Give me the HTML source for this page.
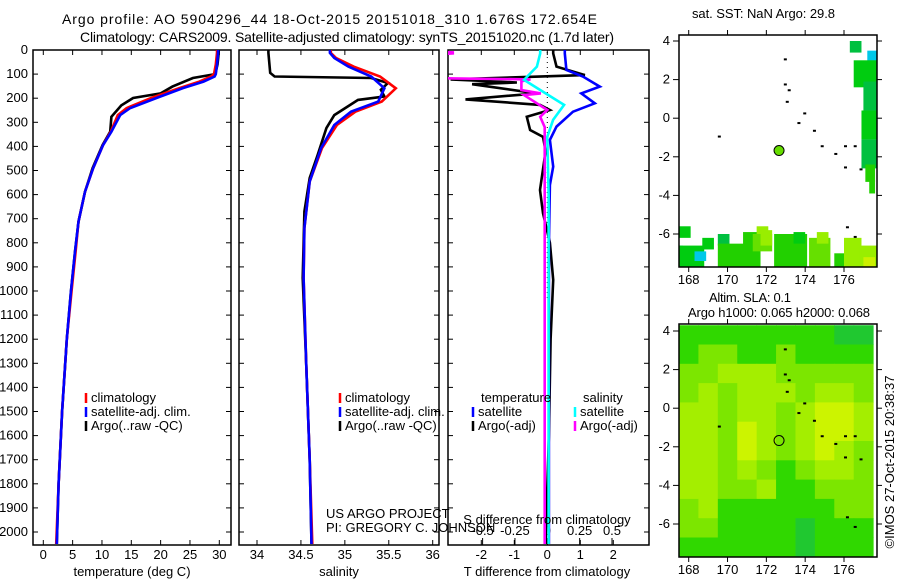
<!DOCTYPE html>
<html><head><meta charset="utf-8"><style>
body{margin:0;background:#fff;}
svg{display:block;font-family:"Liberation Sans",sans-serif;}
text{font-size:13px;fill:#000;}
</style></head><body>
<svg id="c" width="900" height="580" viewBox="0 0 900 580" xmlns="http://www.w3.org/2000/svg">
<defs>
<clipPath id="cp1"><rect x="33" y="50" width="198" height="495"/></clipPath>
<clipPath id="cp2"><rect x="239" y="50" width="200" height="495"/></clipPath>
<clipPath id="cp3"><rect x="448" y="50" width="201" height="495"/></clipPath>
<clipPath id="cm1"><rect x="679" y="35" width="198" height="232"/></clipPath>
<clipPath id="cm2"><rect x="679" y="324" width="198" height="233"/></clipPath>
</defs>
<text x="62" y="24" textLength="535" lengthAdjust="spacing" style="font-size:14px">Argo profile: AO 5904296_44 18-Oct-2015 20151018_310 1.676S 172.654E</text>
<text x="80" y="42" textLength="534" lengthAdjust="spacing" style="font-size:14px">Climatology: CARS2009. Satellite-adjusted climatology: synTS_20151020.nc (1.7d later)</text>
<text x="692" y="18" textLength="143" lengthAdjust="spacing">sat. SST: NaN Argo: 29.8</text>
<text x="709" y="302" textLength="82" lengthAdjust="spacing">Altim. SLA: 0.1</text>
<text x="688" y="317" textLength="182" lengthAdjust="spacing">Argo h1000: 0.065 h2000: 0.068</text>
<text transform="translate(894,462) rotate(-90)" text-anchor="middle">©IMOS 27-Oct-2015 20:38:37</text>
<g id="g"></g>
</svg>
<script>
// ---- data ----
const depthTicks=[0,100,200,300,400,500,600,700,800,900,1000,1100,1200,1300,1400,1500,1600,1700,1800,1900,2000];
const tempTicks=[0,5,10,15,20,25,30];
const salTicks=[34,34.5,35,35.5,36];
const tdiffTicks=[-2,-1,0,1,2];
const sdiffTicks=[-0.5,-0.25,0,0.25,0.5];
const latTicks=[4,2,0,-2,-4,-6];
const lonTicks=[168,170,172,174,176];

const depthT=[0,12,60,100,110,131,158,199,241,270,339,394,490,588,712,837,1003,1200,1500,1800,2050];
const tempSat=[29.8,29.8,29.6,29.4,29.2,27.3,23.8,19.3,14.8,13.1,11.6,10.2,8.5,7.1,6.0,5.4,4.7,4.0,3.2,2.6,2.3];
const tempClim=[29.6,29.6,29.4,29.1,28.6,26.6,23.2,18.4,14.2,12.7,11.5,10.2,8.5,7.1,6.0,5.5,4.8,4.0,3.2,2.6,2.2];
const depthA=[0,12,60,100,116,152,180,199,230,277,339,394,490,588,712,837,1003,1200,1500,1800,2050];
const tempArgo=[29.9,29.9,29.7,29.3,25.5,22.0,20.0,15.3,13.3,11.6,11.4,10.1,8.4,7.1,6.0,5.4,4.7,4.0,3.2,2.6,2.3];

const depthS=[0,12,33,69,110,159,214,256,311,407,546,739,946,1300,1700,2050];
const salSat=[34.83,34.83,34.88,35.04,35.30,35.45,35.38,35.07,34.88,34.73,34.60,34.54,34.53,34.56,34.60,34.62];
const salClim=[34.84,34.84,34.90,35.10,35.40,35.58,35.42,35.12,34.91,34.74,34.60,34.54,34.53,34.56,34.60,34.63];
const depthSA=[0,12,95,110,116,137,165,193,207,270,324,436,531,670,946,1300,1700,2050];
const salArgo=[34.13,34.13,34.15,34.20,35.30,35.49,35.41,35.45,35.15,34.88,34.79,34.69,34.60,34.54,34.52,34.56,34.60,34.62];

const depthD1=[0,14,83,110,152,180,221,256,318,373,484,560,800,1200,1600,2050];
const tdiffSat=[0.53,0.53,0.58,1.08,1.59,1.03,1.44,0.78,0.28,0.08,0.18,0.08,0.05,0.05,0.05,0.05];
const depthD2=[0,14,69,104,122,135,142,180,205,228,249,277,332,360,420,581,677,800,954,1200,1600,2050];
const tdiffArgo=[0.18,0.18,0.28,1.14,-2.93,-0.92,-2.28,-0.32,-2.48,-0.22,0.08,-0.62,-0.52,-0.13,-0.05,-0.22,-0.13,0.08,0.18,0.1,0.05,-0.05];
const depthD3=[0,14,69,124,166,228,290,360,600,1000,1500,2050];
const sdiffSat=[-0.055,-0.055,-0.08,-0.18,-0.055,0.13,0.045,0.0,0.01,0.01,0.01,0.01];
const depthD4=[0,10,14,30,115,118,122,130,166,180,187,221,249,277,320,600,1000,1500,2050];
const sdiffArgo=[-1.2,-0.73,-0.73,-1.2,-1.2,-0.73,-0.13,-0.2,-0.2,-0.05,-0.18,-0.08,0.0,-0.055,-0.02,-0.02,-0.02,-0.02,-0.02];

const slaGrid=[
[1,1,1,1,1,1,1,1,0,0],
[1,2,2,1,1,2,1,1,1,1],
[2,2,3,3,3,2,2,2,2,2],
[2,3,2,3,3,3,2,3,3,2],
[3,3,2,3,3,2,3,4,4,3],
[3,3,2,4,3,2,3,4,4,3],
[3,3,2,4,3,2,3,4,3,2],
[3,3,2,3,2,1,2,3,3,2],
[3,3,2,2,3,1,1,2,2,2],
[2,3,1,1,1,1,1,1,2,2],
[2,2,1,1,1,1,0,1,1,1],
[1,1,1,1,1,1,0,1,1,1]];
const sstCells=[[176.3,4.0,0.6,0.6,0],[177.2,3.5,0.5,0.6,5],[176.5,3.0,1.2,1.4,1],[177.0,1.9,0.7,1.5,0],[176.9,0.4,0.8,1.5,1],[176.9,-1.1,0.8,1.5,0],[177.1,-2.4,0.5,0.9,2],[177.3,-3.2,0.3,0.7,2],
[167.5,-5.6,0.6,0.6,1],[167.5,-6.6,0.2,0.4,5],[167.5,-6.6,1.3,1.2,1],[168.3,-6.9,0.6,0.5,5],[168.7,-6.2,0.6,0.6,1],[169.5,-6.0,0.6,0.6,0],[169.5,-6.5,1.9,1.3,2],[170.8,-5.9,0.9,1.9,2],[171.5,-5.6,0.6,0.4,4],[171.3,-6.0,1.0,0.9,3],[171.7,-5.8,0.6,0.8,4],[172.4,-6.0,1.7,1.8,2],[173.4,-5.9,0.6,0.6,1],[174.2,-6.2,1.1,1.5,3],[174.6,-5.9,0.6,0.6,4],[175.5,-7.0,0.8,0.8,2],[176.0,-6.2,0.9,1.5,4],[176.8,-6.6,1.0,1.2,4],[177.0,-7.2,0.6,0.5,6]];
const floatLon=[172.654];
const floatLat=[-1.676];

// ---- helpers ----
const NS='http://www.w3.org/2000/svg';
const G=document.getElementById('g');
function mk(tag,attrs,parent){const e=document.createElementNS(NS,tag);for(const k in attrs)e.setAttribute(k,attrs[k]);(parent||G).appendChild(e);return e;}
function lin(d0,d1,r0,r1){return v=>r0+(v-d0)*(r1-r0)/(d1-d0);}
const yD=lin(0,2000,50,532);
const xT=lin(0,30,43.3,219.3);
const xS=lin(34,36,257,432.7);
const xTd=lin(0,2,547.3,613.3);
const xSd=lin(0,0.5,547.3,612);
const mlon=lin(167.5,177.7,679,877);
const mlat1=lin(4,-6,41,234);
const mlat2=lin(4,-6,331,524);

function line(xs,ys,xf,color,clip,name){
  const pts=xs.map((v,i)=>xf(v).toFixed(1)+','+yD(ys[i]).toFixed(1)).join(' ');
  const p=mk('polyline',{points:pts,fill:'none',stroke:color,'stroke-width':2.6,'clip-path':'url(#'+clip+')'});
  
  
}
function frame(x,y,w,h,name){
  const r=mk('rect',{x:x,y:y,width:w,height:h,fill:'none',stroke:'#000','stroke-width':1.5});
  
  
}
function hticks(x0,x1){depthTicks.forEach(d=>{const y=yD(d);mk('line',{x1:x0,y1:y,x2:x0+5,y2:y,stroke:'#000'});mk('line',{x1:x1-5,y1:y,x2:x1,y2:y,stroke:'#000'});});}
function xticks(ticks,xf,labY,top){ticks.forEach(t=>{const x=xf(t);mk('line',{x1:x,y1:545,x2:x,y2:540,stroke:'#000'});if(top)mk('line',{x1:x,y1:50,x2:x,y2:55,stroke:'#000'});const tx=mk('text',{x:x,y:labY,'text-anchor':'middle'});tx.textContent=String(t);});}
function legend(x,y,items){items.forEach((it,i)=>{mk('line',{x1:x,y1:y+i*14-9,x2:x,y2:y+i*14+1,stroke:it[1],'stroke-width':2.5});const t=mk('text',{x:x+5,y:y+i*14});t.textContent=it[0];});}

// ---- panel 1: temperature ----
frame(33,50,198,495,'temperature-panel');
hticks(33,231);
depthTicks.forEach(d=>{const t=mk('text',{x:28,y:yD(d)+4,'text-anchor':'end'});t.textContent=String(d);});
xticks(tempTicks,xT,559,true);
const xl1=mk('text',{x:132,y:576,'text-anchor':'middle'});xl1.textContent='temperature (deg C)';


line(tempArgo,depthA,xT,'#000','cp1','temperature-argo-line');
line(tempClim,depthT,xT,'#f00','cp1','temperature-climatology-line');
line(tempSat,depthT,xT,'#00f','cp1','temperature-satellite-line');
legend(86,402,[['climatology','#f00'],['satellite-adj. clim.','#00f'],['Argo(..raw -QC)','#000']]);

// ---- panel 2: salinity ----
frame(239,50,200,495,'salinity-panel');
hticks(239,439);
xticks(salTicks,xS,559,true);
const xl2=mk('text',{x:339,y:576,'text-anchor':'middle'});xl2.textContent='salinity';


line(salArgo,depthSA,xS,'#000','cp2','salinity-argo-line');
line(salClim,depthS,xS,'#f00','cp2','salinity-climatology-line');
line(salSat,depthS,xS,'#00f','cp2','salinity-satellite-line');
legend(340,402,[['climatology','#f00'],['satellite-adj. clim.','#00f'],['Argo(..raw -QC)','#000']]);
const us=mk('text',{x:326,y:518});us.textContent='US ARGO PROJECT';


const pi=mk('text',{x:326,y:532});pi.textContent='PI: GREGORY C. JOHNSON';



// ---- panel 3: differences ----
frame(448,50,201,495,'difference-panel');
hticks(448,649);
tdiffTicks.forEach(t=>{const x=xTd(t);mk('line',{x1:x,y1:50,x2:x,y2:55,stroke:'#000'});});
xticks(tdiffTicks,xTd,559,false);
sdiffTicks.forEach(t=>{const x=xSd(t);mk('line',{x1:x,y1:545,x2:x,y2:538,stroke:'#000'});const tx=mk('text',{x:x,y:535,'text-anchor':'middle'});tx.textContent=String(t);});
mk('line',{x1:xTd(0),y1:52,x2:xTd(0),y2:300,stroke:'#000','stroke-dasharray':'1,4'});
line(tdiffArgo,depthD2,xTd,'#000','cp3','tdiff-argo-line');
line(sdiffArgo,depthD4,xSd,'#f0f','cp3','sdiff-argo-line');
line(tdiffSat,depthD1,xTd,'#00f','cp3','tdiff-satellite-line');
line(sdiffSat,depthD3,xSd,'#0ff','cp3','sdiff-satellite-line');
const sl=mk('text',{x:547,y:524,'text-anchor':'middle'});sl.textContent='S difference from climatology';


const tl=mk('text',{x:547,y:576,'text-anchor':'middle'});tl.textContent='T difference from climatology';


const lt=mk('text',{x:481,y:402});lt.textContent='temperature';


const ls=mk('text',{x:583,y:402});ls.textContent='salinity';


legend(473,416,[['satellite','#00f'],['Argo(-adj)','#000']]);
legend(575,416,[['satellite','#0ff'],['Argo(-adj)','#f0f']]);

// ---- maps ----
const sstCol=['#00c040','#00cc10','#22d000','#66e000','#99ee00','#00c8e8','#ccf000'];
const slaCol=['#20c830','#30d800','#7ce600','#a4ee00','#ccf400'];
function mapAxes(top,bot,latf,name){
  frame(679,top,198,bot-top,name);
  latTicks.forEach(l=>{const y=latf(l);mk('line',{x1:673,y1:y,x2:679,y2:y,stroke:'#000'});mk('line',{x1:877,y1:y,x2:882,y2:y,stroke:'#000'});const t=mk('text',{x:670,y:y+4,'text-anchor':'end'});t.textContent=String(l);});
  lonTicks.forEach(l=>{const x=mlon(l);mk('line',{x1:x,y1:bot,x2:x,y2:bot+5,stroke:'#000'});mk('line',{x1:x,y1:top-5,x2:x,y2:top,stroke:'#000'});const t=mk('text',{x:x,y:bot+17,'text-anchor':'middle'});t.textContent=String(l);});
}
// SLA map
const g2=mk('g',{'clip-path':'url(#cm2)'});
slaGrid.forEach((row,r)=>row.forEach((v,c)=>{
  const la=4.3-r, lo=167.5+c;
  const y0=mlat2(la), y1=mlat2(la-1), x0=mlon(lo), x1=mlon(lo+1);
  const cell=mk('rect',{x:x0,y:y0,width:x1-x0+0.5,height:y1-y0+0.5,fill:slaCol[v]},g2);
  
  
}));
// SST map
const g1=mk('g',{'clip-path':'url(#cm1)'});
sstCells.forEach(s=>{
  const x0=mlon(s[0]),x1=mlon(s[0]+s[2]),y0=mlat1(s[1]),y1=mlat1(s[1]-s[3]);
  const cell=mk('rect',{x:x0,y:y0,width:x1-x0,height:y1-y0,fill:sstCol[s[4]]},g1);
  
  
});
// islands
const isl=[[172.9,3.1],[172.9,1.8],[173.1,1.5],[173.0,0.9],[173.6,-0.2],[173.9,0.3],[174.4,-0.6],[174.8,-1.4],[175.5,-1.8],[176.0,-1.4],[176.5,-1.4],[176.0,-2.5],[176.8,-2.6],[169.5,-0.9],[176.1,-5.6],[176.5,-6.1]];
[[mlat1,g1],[mlat2,g2]].forEach(([lf,gg])=>{isl.forEach(p=>{const d=mk('rect',{x:mlon(p[0]),y:lf(p[1]),width:3,height:2,fill:'#000'},gg);});});
mapAxes(35,267,mlat1,'sst-map');
mapAxes(324,557,mlat2,'sla-map');
const f1=mk('circle',{cx:mlon(floatLon[0]),cy:mlat1(floatLat[0]),r:5,fill:'#66dd00',stroke:'#000'});


const f2=mk('circle',{cx:mlon(floatLon[0]),cy:mlat2(floatLat[0]),r:5,fill:'none',stroke:'#000'});


</script>
</body></html>
